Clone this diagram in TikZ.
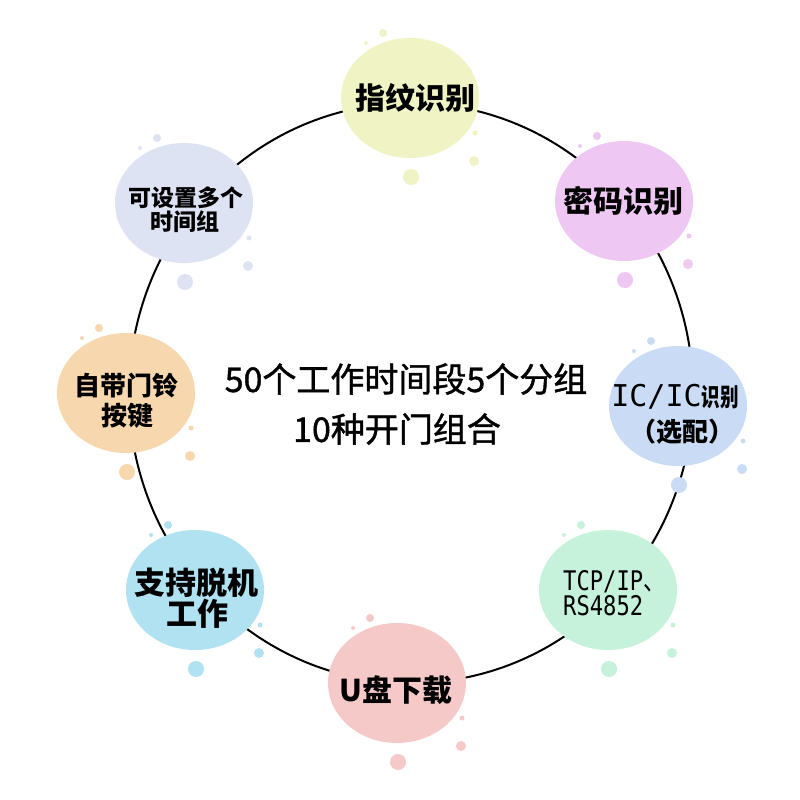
\documentclass[tikz,border=0pt]{standalone}
\usepackage{fontspec}
\setmainfont{Noto Sans CJK SC}
\newfontfamily\cjk{Noto Sans CJK SC}
\newfontfamily\cjkmed{Noto Sans CJK SC}[FakeBold=1.2]
\newfontfamily\monofont{DejaVu Sans Mono}
\usetikzlibrary{shapes.geometric}
\definecolor{cA}{RGB}{240,244,196}
\definecolor{cB}{RGB}{238,200,242}
\definecolor{cC}{RGB}{201,219,245}
\definecolor{cD}{RGB}{198,242,220}
\definecolor{cE}{RGB}{246,201,201}
\definecolor{cF}{RGB}{176,226,242}
\definecolor{cG}{RGB}{247,215,174}
\definecolor{cH}{RGB}{222,227,244}
\tikzset{
  ring/.style={draw=black, line width=2pt},
  bub/.style={ellipse, fill=#1, draw=none, minimum width=138pt, minimum height=120pt, inner sep=0pt},
  lbl/.style={inner sep=0pt, font=\cjk\bfseries\fontsize{#1}{#1}\selectfont},
  mlbl/.style={inner sep=0pt, font=\cjkmed\fontsize{#1}{#1}\selectfont},
  tlbl/.style={inner sep=0pt, anchor=west, align=left, font=\monofont\fontsize{#1}{25}\selectfont},
}
\begin{document}
\begin{tikzpicture}[x=1pt,y=-1pt]
\useasboundingbox (0,0) rectangle (800,800);
\fill[white] (0,0) rectangle (800,800);
% ring
\draw[ring] (411,393) ellipse [x radius=282pt, y radius=290pt];
% decorative dots
\foreach \cx/\cy/\col in {410/98/cA, 624/201/cB, 678/406/cC, 608/590/cD, 397/683/cE, 195/590/cF, 126/393/cG, 184/203/cH}{
  \begin{scope}[shift={(\cx,\cy)}]
    \fill[\col] (-27,-65) circle[radius=4pt];
    \fill[\col] (-44,-55) circle[radius=2pt];
    \fill[\col] (65,35) circle[radius=2.5pt];
    \fill[\col] (64,63) circle[radius=5pt];
    \fill[\col] (1,79) circle[radius=8pt];
  \end{scope}
}
% bubbles
\node[bub=cA] (b1) at (410,98) {};
\node[bub=cB] (b2) at (624,201) {};
\node[bub=cC] (b3) at (678,406) {};
\node[bub=cD] (b4) at (608,590) {};
\node[bub=cE] (b5) at (397,683) {};
\node[bub=cF] (b6) at (195,590) {};
\node[bub=cG] (b7) at (126,393) {};
\node[bub=cH] (b8) at (184,203) {};
% labels
\node[lbl=30] (t1) at (415,98) {指纹识别};
\node[lbl=30] (t2) at (623,201) {密码识别};
\node[lbl=25] (t3a) at (675,397) {{\monofont\mdseries\fontsize{30}{30}\selectfont IC/IC}\scalebox{0.74}[1]{识别}};
\node[lbl=26] (t3b) at (682,432) {（选配）};
\node[tlbl=27] (t4) at (563,593) {\scalebox{0.82}[1]{TCP/IP{\cjk 、}}\\\scalebox{0.82}[1]{RS4852}};
\node[lbl=30] (t5) at (396,690) {U盘下载};
\node[lbl=31] (t6a) at (196,583) {支持脱机};
\node[lbl=31] (t6b) at (197,614) {工作};
\node[lbl=26] (t7a) at (126,386) {自带门铃};
\node[lbl=26] (t7b) at (127,416) {按键};
\node[lbl=23] (t8a) at (186,198) {可设置多个};
\node[lbl=23] (t8b) at (185,222) {时间组};
% centre text
\node[mlbl=34] (m1) at (406,379) {50个工作时间段5个分组};
\node[mlbl=34] (m2) at (397,429) {10种开门组合};
\end{tikzpicture}
\end{document}
